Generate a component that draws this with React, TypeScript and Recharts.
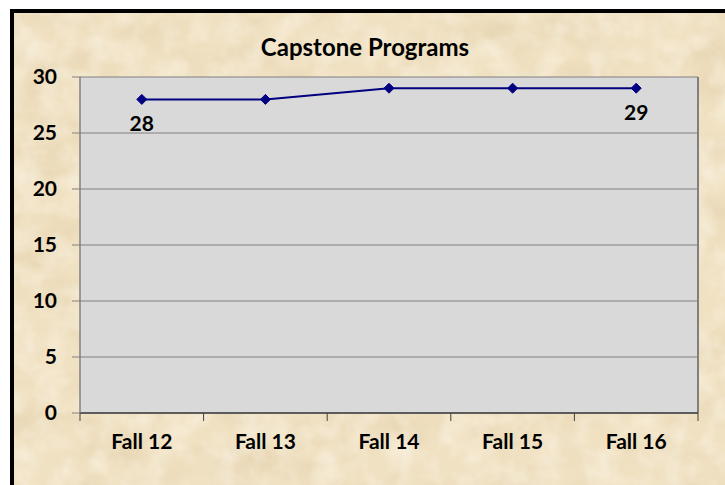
import React from 'react';
import { LineChart, Line, XAxis, YAxis, CartesianGrid, ReferenceLine, LabelList } from 'recharts';

const categories = ['Fall 12', 'Fall 13', 'Fall 14', 'Fall 15', 'Fall 16'];
const programs = [28, 28, 29, 29, 29];
const shownLabels = [true, false, false, false, true];
const yTicks = [0, 5, 10, 15, 20, 25, 30];
const title = 'Capstone Programs';

const data = categories.map((c, i) => ({
  pos: i + 0.5,
  name: c,
  value: programs[i],
  label: shownLabels[i] ? programs[i] : null,
}));
const xTicks = Array.from({ length: categories.length * 2 + 1 }, (_, i) => i / 2);

const FONT = 'Lato, "Open Sans", sans-serif';
const FS = 21;
const TICK_SIZE = 8;
const X_TICK_MARGIN = 13;

const XTick = (props: any) => {
  const { x, y, payload } = props;
  const v = payload.value;
  if (Number.isInteger(v)) {
    const axisY = y - TICK_SIZE - X_TICK_MARGIN;
    return <line x1={x} x2={x} y1={axisY} y2={axisY + TICK_SIZE} stroke="#404040" strokeWidth={1} />;
  }
  return (
    <text x={x} y={y} dy="0.71em" textAnchor="middle" fontFamily={FONT} fontWeight={700} fontSize={FS} fill="#000">
      {categories[Math.floor(v)]}
    </text>
  );
};

const Diamond = (props: any) => {
  const { cx, cy } = props;
  if (cx == null || cy == null) return null;
  const s = 5;
  return <polygon points={`${cx},${cy - s} ${cx + s},${cy} ${cx},${cy + s} ${cx - s},${cy}`} fill="#000080" stroke="#000080" />;
};

const DataLabel = (props: any) => {
  const { x, y, value } = props;
  if (value == null) return null;
  return (
    <text x={x} y={y + 23} textAnchor="middle" dominantBaseline="central" fontFamily={FONT} fontWeight={700} fontSize={FS} fill="#000">
      {value}
    </text>
  );
};

export default function App() {
  return (
    <div style={{ position: 'fixed', left: 0, top: 0, width: 725, height: 485, background: '#fff', overflow: 'hidden' }}>
      <div
        style={{
          position: 'absolute', left: 10, top: 9, width: 760, height: 520,
          borderLeft: '4px solid #000', borderTop: '4px solid #000', background: '#F0E1C2', overflow: 'hidden',
        }}
      >
        <svg width={760} height={520} style={{ position: 'absolute', left: 0, top: 0 }}>
          <defs>
            <filter id="parch" x="0" y="0" width="100%" height="100%">
              <feTurbulence type="fractalNoise" baseFrequency="0.015 0.03" numOctaves={4} seed={7} />
              <feColorMatrix type="matrix" values="0 0 0 0 0.72  0 0 0 0 0.58  0 0 0 0 0.36  0.9 0 0 0 -0.38" />
            </filter>
            <filter id="parch2" x="0" y="0" width="100%" height="100%">
              <feTurbulence type="fractalNoise" baseFrequency="0.04" numOctaves={3} seed={3} />
              <feColorMatrix type="matrix" values="0 0 0 0 1  0 0 0 0 0.97  0 0 0 0 0.9  0.9 0 0 0 -0.35" />
            </filter>
          </defs>
          <rect width="100%" height="100%" filter="url(#parch)" />
          <rect width="100%" height="100%" filter="url(#parch2)" />
        </svg>
      </div>
      <div
        style={{
          position: 'absolute', left: 0, top: 28, width: 730, textAlign: 'center',
          fontFamily: FONT, fontWeight: 700, fontSize: 24, color: '#000', lineHeight: '38px',
        }}
      >
        {title}
      </div>
      <div style={{ position: 'absolute', left: 0, top: 0 }}>
        <LineChart width={725} height={485} data={data} margin={{ top: 77, right: 27, bottom: 12, left: 20 }}>
          <CartesianGrid vertical={false} fill="#D9D9D9" stroke="#808080" strokeWidth={1} />
          <XAxis
            dataKey="pos"
            type="number"
            domain={[0, categories.length]}
            ticks={xTicks}
            interval={0}
            tick={<XTick />}
            tickLine={false}
            tickSize={TICK_SIZE}
            tickMargin={X_TICK_MARGIN}
            axisLine={{ stroke: '#404040', strokeWidth: 1.5 }}
            height={60}
          />
          <YAxis
            type="number"
            domain={[0, 30]}
            ticks={yTicks}
            interval={0}
            width={60}
            tickSize={TICK_SIZE}
            tickMargin={15}
            axisLine={{ stroke: '#808080', strokeWidth: 1.5 }}
            tickLine={{ stroke: '#808080' }}
            tick={{ fontFamily: FONT, fontWeight: 700, fontSize: FS, fill: '#000' }}
          />
          <ReferenceLine x={categories.length} stroke="#808080" strokeWidth={2} />
          <Line
            type="linear"
            dataKey="value"
            stroke="#000080"
            strokeWidth={2}
            dot={<Diamond />}
            activeDot={false}
            isAnimationActive={false}
          >
            <LabelList dataKey="label" content={<DataLabel />} />
          </Line>
        </LineChart>
      </div>
    </div>
  );
}
